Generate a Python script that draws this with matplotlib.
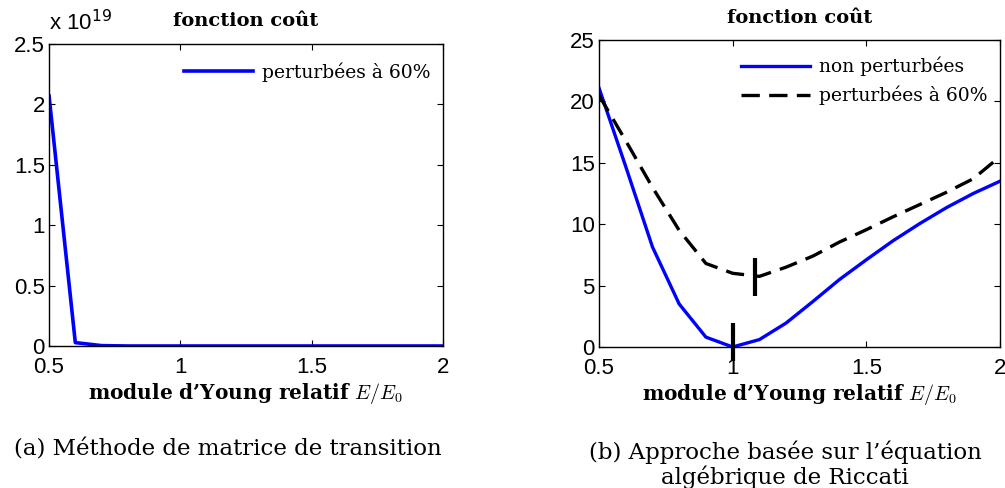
import matplotlib
matplotlib.use("Agg")
import matplotlib.pyplot as plt
from matplotlib.ticker import FuncFormatter

plt.rcParams['mathtext.fontset'] = 'cm'

# ---- data ----
E_rel = [0.5, 0.6, 0.7, 0.8, 0.9, 1.0, 1.1, 1.2, 1.3, 1.4, 1.5, 1.6, 1.7, 1.8, 1.9, 2.0]
cost_transition_60 = [2.07e19, 0.028e19, 0.003e19, 0, 0, 0, 0, 0, 0, 0, 0, 0, 0, 0, 0, 0]
cost_riccati_non = [21.1, 14.7, 8.15, 3.5, 0.8, 0.0, 0.6, 1.95, 3.7, 5.5, 7.1, 8.65, 10.05, 11.35, 12.5, 13.5]
cost_riccati_60 = [20.5, 16.8, 13.0, 9.5, 6.8, 6.0, 5.75, 6.5, 7.4, 8.55, 9.55, 10.6, 11.6, 12.6, 13.7, 15.5]
min_non = (1.0, 0.4)
min_60 = (1.085, 5.7)

xticks = [0.5, 1, 1.5, 2]
xticklabels = ['0.5', '1', '1.5', '2']
yticks_left = [0, 0.5e19, 1e19, 1.5e19, 2e19, 2.5e19]
yticks_right = [0, 5, 10, 15, 20, 25]

title = "fonction coût"
xlabel = "module d’Young relatif $E/E_0$"
label_non = "non perturbées"
label_60 = "perturbées à 60%"
cap_a = "(a) Méthode de matrice de transition"
cap_b = "(b) Approche basée sur l’équation\nalgébrique de Riccati"

serif = ['DejaVu Serif']
sans = ['Liberation Sans', 'DejaVu Sans']
TICK = 16

fig = plt.figure(figsize=(10.05, 4.88), dpi=100)
axL = fig.add_axes([0.0488, 0.291, 0.392, 0.619])
axR = fig.add_axes([0.596, 0.289, 0.399, 0.629])

for ax in (axL, axR):
    ax.set_xlim(0.5, 2)
    ax.set_xticks(xticks)
    ax.set_xticklabels(xticklabels)
    ax.tick_params(direction='in', top=True, right=True, length=4, width=0.8,
                   labelsize=TICK)
    ax.tick_params(axis='x', pad=8)
    ax.tick_params(axis='y', pad=3)
    for s in ax.spines.values():
        s.set_linewidth(1.0)

# left
axL.plot(E_rel, cost_transition_60, color='#0000ff', lw=2.6, label=label_60)
axL.set_ylim(0, 2.5e19)
axL.set_yticks(yticks_left)
axL.yaxis.set_major_formatter(FuncFormatter(lambda v, p: f"{v/1e19:g}"))
axL.text(0.0, 1.03, "x 10$^{19}$", transform=axL.transAxes, ha='left', va='bottom',
         fontsize=TICK, family=sans, math_fontfamily='dejavusans')
axL.legend(loc='upper right', frameon=False, prop={'family': serif, 'size': 13.5},
           handlelength=3.7, borderaxespad=0.25, handletextpad=0.5,
           bbox_to_anchor=(1.0, 0.98))
axL.set_title(title, family=serif, fontweight='bold', fontsize=14, pad=13)

# right
axR.plot(E_rel, cost_riccati_non, color='#0000ff', lw=2.4, label=label_non)
axR.plot(E_rel, cost_riccati_60, color='black', lw=2.4, ls=(0, (5.5, 2.8)), label=label_60)
axR.plot([min_non[0]], [min_non[1]], marker='|', color='black', ms=27, mew=3,
         ls='none', clip_on=False)
axR.plot([min_60[0]], [min_60[1]], marker='|', color='black', ms=27, mew=3,
         ls='none', clip_on=False)
axR.set_ylim(0, 25)
axR.set_yticks(yticks_right)
axR.legend(loc='upper right', frameon=False, prop={'family': serif, 'size': 13.5},
           handlelength=3.7, borderaxespad=0.25, handletextpad=0.5, labelspacing=0.5,
           bbox_to_anchor=(1.0, 0.985))
axR.set_title(title, family=serif, fontweight='bold', fontsize=14, pad=12)

for ax in (axL, axR):
    for lab in ax.get_xticklabels() + ax.get_yticklabels():
        lab.set_family(sans)
    ax.set_xlabel(xlabel, family=serif, fontweight='bold', fontsize=14.5, labelpad=2)

fig.text(0.227, 0.078, cap_a, ha='center', va='center', family=serif, fontsize=16.5)
fig.text(0.781, 0.048, cap_b, ha='center', va='center', family=serif, fontsize=16.5,
         linespacing=1.05, multialignment='center')

fig.savefig('out.png', dpi=100)
